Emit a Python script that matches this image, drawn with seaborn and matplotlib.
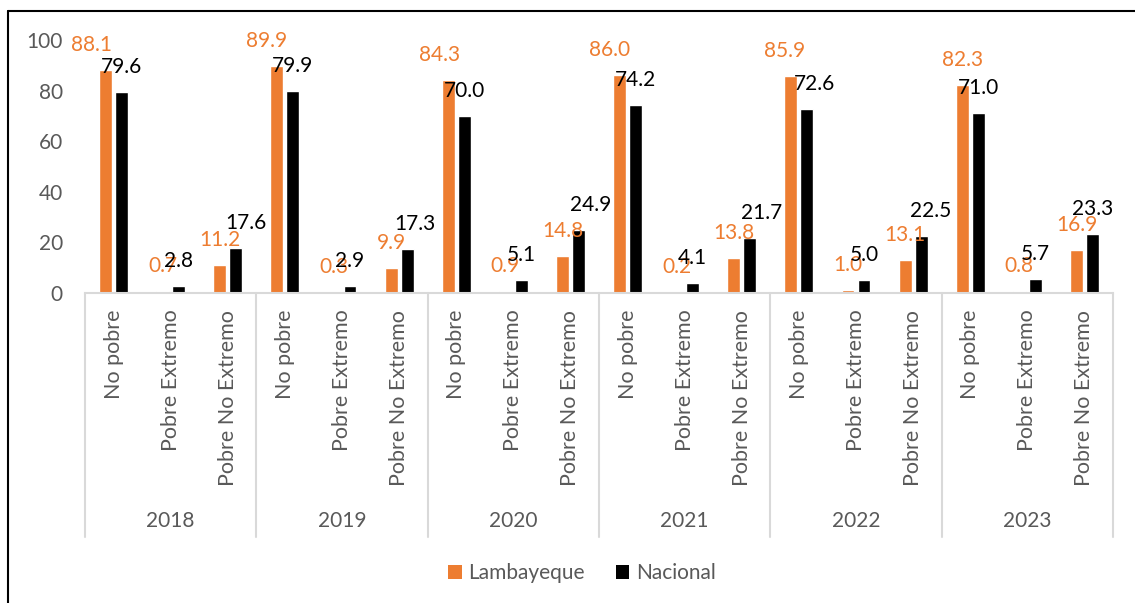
import seaborn as sns
import pandas as pd
import matplotlib.pyplot as plt
from matplotlib.patches import Patch
from matplotlib.lines import Line2D

# data
years = ['2018', '2019', '2020', '2021', '2022', '2023']
cats = ['No pobre', 'Pobre Extremo', 'Pobre No Extremo']
series = ['Lambayeque', 'Nacional']
lambayeque = [88.1, 0.7, 11.2,
              89.9, 0.3, 9.9,
              84.3, 0.9, 14.8,
              86.0, 0.2, 13.8,
              85.9, 1.0, 13.1,
              82.3, 0.8, 16.9]
nacional = [79.6, 2.8, 17.6,
            79.9, 2.9, 17.3,
            70.0, 5.1, 24.9,
            74.2, 4.1, 21.7,
            72.6, 5.0, 22.5,
            71.0, 5.7, 23.3]

# small sideways nudges (pixels) of the value labels, as placed in the original
nudge_lamb = [-14, 0, 0, -10, 0, 0, -9, 0, 0, -10, 0, 0, -6, 0, 0, 0, 0, 0]
nudge_nac = [0, 0, 10, 0, 0, 8, 0, 0, 12, 0, 0, 12, 8, 0, 10, 0, 0, 0]

colors = {'Lambayeque': '#ED7D31', 'Nacional': '#000000'}
grey = '#595959'
line_grey = '#D9D9D9'

keys = [y + '|' + c for y in years for c in cats]
df = pd.DataFrame({
    'key': keys * 2,
    'serie': ['Lambayeque'] * len(keys) + ['Nacional'] * len(keys),
    'value': lambayeque + nacional,
})

sns.set_style('white')
plt.rcParams['font.family'] = ['Lato', 'DejaVu Sans']
fs = 15

fig = plt.figure(figsize=(11.35, 6.03), dpi=100)
ax = fig.add_axes([85 / 1135, 1 - 293 / 603, (1113 - 85) / 1135, 253 / 603])

sns.barplot(data=df, x='key', y='value', hue='serie', order=keys,
            hue_order=series, palette=colors, saturation=1, errorbar=None,
            width=0.56, gap=0.19, legend=False, ax=ax)

ax.set_ylim(0, 100)
ax.set_xlim(-0.5, len(keys) - 0.5)
ax.set_yticks(range(0, 101, 20))
ax.set_xlabel('')
ax.set_ylabel('')
for s in ['top', 'right', 'left']:
    ax.spines[s].set_visible(False)
ax.spines['bottom'].set_color(line_grey)
ax.spines['bottom'].set_linewidth(1.5)
ax.tick_params(axis='y', length=0, pad=16, labelsize=fs, labelcolor=grey)
ax.set_xticks(range(len(keys)))
ax.set_xticklabels([c for y in years for c in cats], rotation=90,
                   fontsize=15.5, color=grey, va='top')
ax.tick_params(axis='x', length=0, pad=12)

# value labels
for cont, nudges, name in zip(ax.containers, [nudge_lamb, nudge_nac], series):
    for bar, dx in zip(cont, nudges):
        h = bar.get_height()
        ax.annotate(f'{h:.1f}', (bar.get_x() + bar.get_width() / 2, h),
                    xytext=(dx, 25), textcoords='offset pixels',
                    ha='center', va='center', fontsize=fs,
                    color=colors[name], annotation_clip=False)

# group dividers and year labels
trans = ax.get_xaxis_transform()
n = len(cats)
for i in range(len(years) + 1):
    ax.add_line(Line2D([i * n - 0.5] * 2, [0, -244 / 253], transform=trans,
                       color=line_grey, lw=1.5, clip_on=False))
for i, y in enumerate(years):
    ax.annotate(y, (i * n + (n - 1) / 2, 0), xycoords=trans,
                xytext=(0, -228), textcoords='offset pixels',
                ha='center', va='center', fontsize=fs, color=grey,
                annotation_clip=False)

# legend
handles = [Patch(facecolor=colors[s], edgecolor='none', label=s) for s in series]
fig.legend(handles=handles, loc='center', bbox_to_anchor=(582 / 1135, 1 - 573 / 603),
           ncol=2, frameon=False, fontsize=fs, labelcolor=grey,
           handlelength=0.65, handleheight=0.65, handletextpad=0.3,
           columnspacing=1.5)

# outer frame (top and left edges only, as cropped in the original)
fig.add_artist(Line2D([8 / 1135, 1], [1 - 11 / 603] * 2, color='black', lw=1.5))
fig.add_artist(Line2D([8 / 1135] * 2, [0, 1 - 11 / 603], color='black', lw=1.5))

fig.savefig('out.png', dpi=100)
